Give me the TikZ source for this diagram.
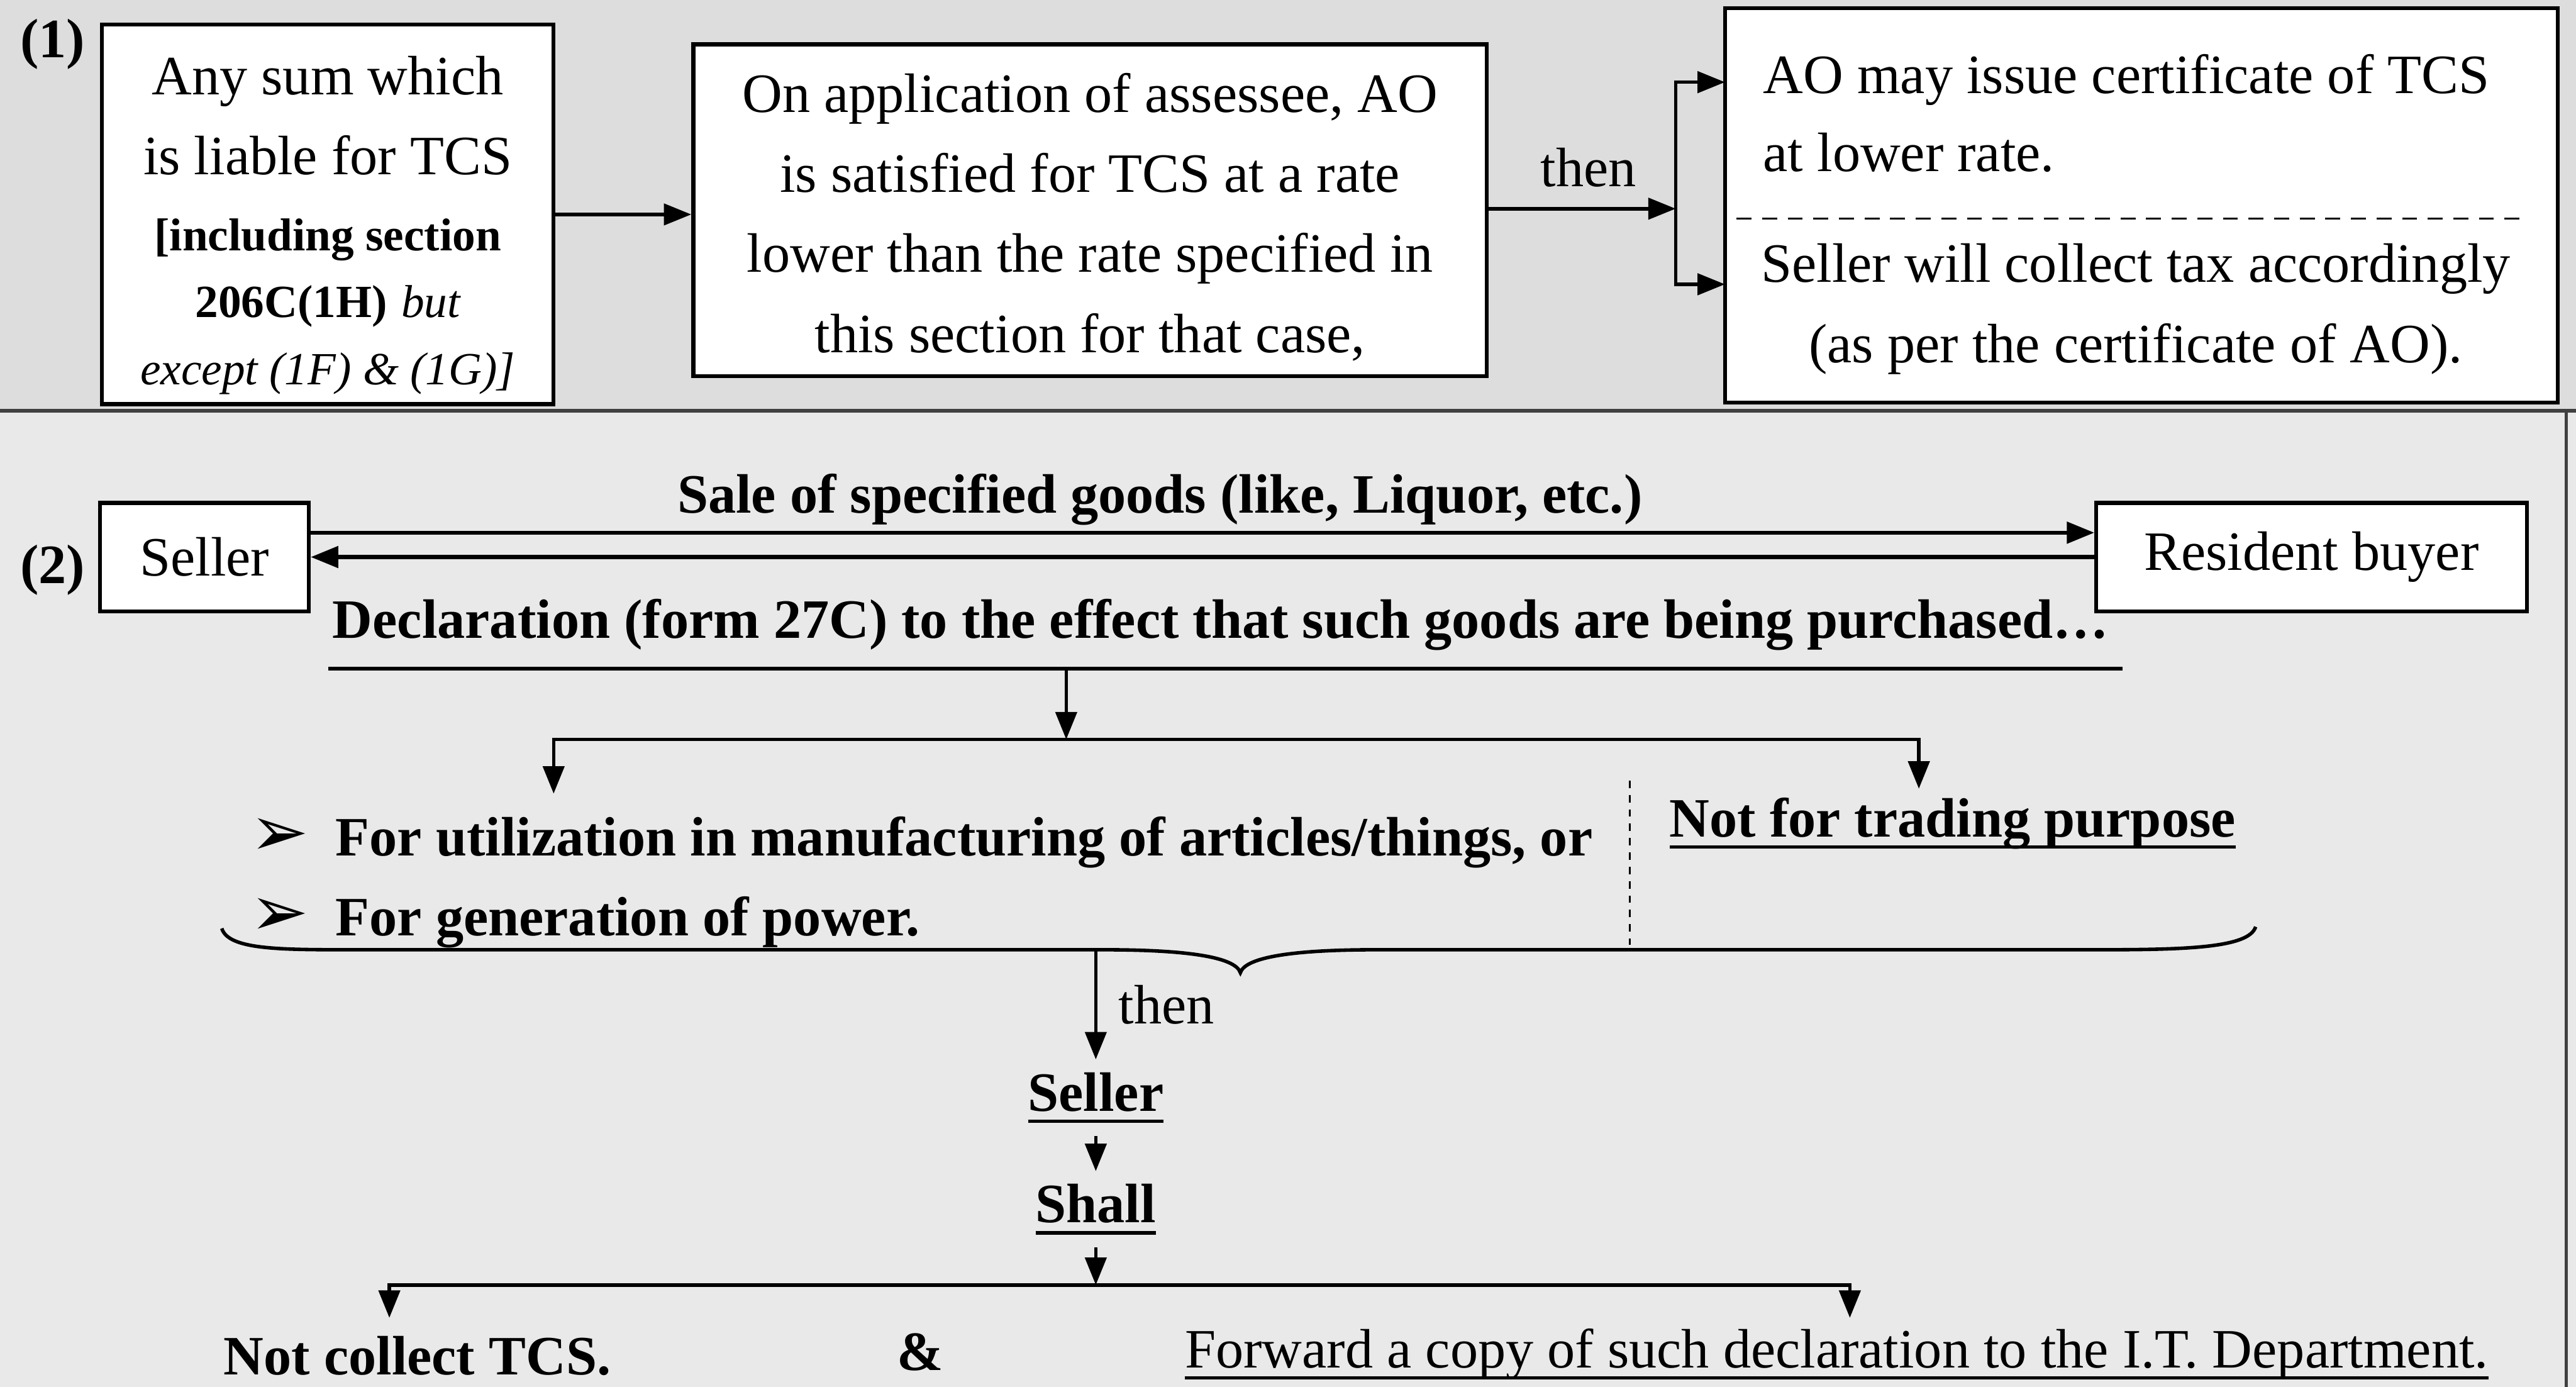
\documentclass[tikz,border=0pt]{standalone}
\usepackage{fontspec}
\setmainfont{Liberation Serif}
\newfontfamily\symfont{DejaVu Sans}
\usetikzlibrary{arrows.meta,positioning,calc}
\definecolor{panelA}{RGB}{221,221,221}
\definecolor{panelB}{RGB}{233,233,233}
\newcommand{\bigf}{\fontsize{25.3}{36.5}\selectfont}
\newcommand{\smf}{\fontsize{21}{30}\selectfont}
\newcommand{\bul}{\makebox[13.7mm][l]{\fontsize{32}{20}\selectfont\symfont\char"27A2}}
\newcommand{\ul}[1]{\setbox0\hbox{#1}\rlap{\rule[-5.5pt]{\wd0}{1.6pt}}\box0}

\begin{document}
\begin{tikzpicture}[x=0.2631mm,y=-0.2631mm,
  box/.style={draw,line width=1.8pt,fill=white,inner sep=0pt},
  arr/.style={line width=1.6pt,-{Triangle[length=4.4mm,width=3.4mm]}},
  ln/.style={line width=1.6pt},
  txt/.style={font=\bigf,inner sep=0pt},
  btxt/.style={font=\bigf\bfseries,inner sep=0pt}]
\useasboundingbox (0,0) rectangle (1568,844);
\fill[panelA] (0,0) rectangle (1568,250);
\fill[panelB] (0,250) rectangle (1568,844);
\draw[line width=1.6pt,black!75] (0,250) -- (1568,250);
\draw[line width=1.6pt,black!75] (1562,250) -- (1562,844);

% (1) lower rate certificate
\node[btxt] (n1) at (32,27) {(1)};
\node[box,minimum width=275*0.2631mm,minimum height=231*0.2631mm] (sum) at (199.5,130.5) {};
\node[txt,align=center] (sumtxt) at (199.5,137)
  {Any sum which\\ is liable for TCS\\[-2pt] {\smf\bfseries [including section}\\[-6pt] {\smf\bfseries 206C(1H)} {\smf\itshape but}\\[-6pt] {\smf\itshape except (1F) \& (1G)]}};
\node[box,minimum width=483*0.2631mm,minimum height=202*0.2631mm] (app) at (663.5,128) {};
\node[txt,align=center] (apptxt) at (663.5,132)
  {On application of assessee, AO\\ is satisfied for TCS at a rate\\ lower than the rate specified in\\ this section for that case,};
\node[box,minimum width=507*0.2631mm,minimum height=240*0.2631mm] (cert) at (1303.5,125) {};
\node[txt,align=left,anchor=west] (certa) at (1073,69) {AO may issue certificate of TCS\\[-1pt] at lower rate.};
\node[txt,align=center] (certb) at (1300,188) {Seller will collect tax accordingly\\ (as per the certificate of AO).};
\coordinate (dsh1) at (1057,133);
\coordinate (dsh2) at (1537,133);
\draw[line width=1pt,dash pattern=on 2.4mm off 1.7mm] (dsh1) -- (dsh2);
\coordinate (fork) at (1020,127);
\coordinate (in1) at (1050,50);
\coordinate (in2) at (1050,173);
\draw[arr] (sum.east) -- (sum.east -| app.west);
\draw[arr] (app.east |- fork) -- node[txt,above=3.2mm,xshift=1mm] (then1) {then} (fork);
\draw[arr] (fork) |- (in1);
\draw[arr] (fork) |- (in2);

% (2) declaration by buyer
\node[btxt] (n2) at (32,347) {(2)};
\node[box,font=\bigf,minimum width=127*0.2631mm,minimum height=66*0.2631mm] (seller) at (124.5,339) {Seller};
\node[box,font=\bigf,minimum width=262*0.2631mm,minimum height=66*0.2631mm] (buyer) at (1407,339) {Resident buyer};
\node[btxt] (sale) at (706,304) {Sale of specified goods (like, Liquor, etc.)};
\draw[arr,line width=1.8pt] ([yshift=3.9mm]seller.east) -- ([yshift=3.9mm]buyer.west);
\draw[arr,line width=1.8pt] (buyer.west) -- (seller.east);
\node[btxt] (decl) at (743,380) {Declaration (form 27C) to the effect that such goods are being purchased…};
\coordinate (dl) at (200,407);
\coordinate (dr) at (1292,407);
\coordinate (dm) at (649,407);
\coordinate (hub) at (649,450);
\coordinate (ua) at (337,483);
\coordinate (ub) at (1168,480);
\draw[ln] (dl) -- (dr);
\draw[arr] (dm) -- (hub);
\draw[arr] (hub) -| (ua);
\draw[arr] (hub) -| (ub);
\node[btxt,align=left,anchor=west] (uses) at (152,537)
  {\bul For utilization in manufacturing of articles/things, or\\ \bul For generation of power.};
\node[btxt,anchor=west] (ntp) at (1016,501) {\ul{Not for trading purpose}};
\coordinate (dv1) at (992,475);
\coordinate (dv2) at (992,575);
\draw[line width=1pt,dash pattern=on 1.2mm off 1.1mm] (dv1) -- (dv2);
\draw[ln] (135,565) .. controls (139,578) and (170,578) .. (215,578) -- (672,578)
  .. controls (720,578) and (752,582) .. (755,592) .. controls (758,582) and (790,578) .. (837,578)
  -- (1276,578) .. controls (1330,578) and (1369,577) .. (1373,564);
\coordinate (bt) at (667,578);
\node[btxt,inner sep=2mm] (seller2) at (667,668) {\ul{Seller}};
\node[btxt,inner sep=2mm] (shall) at (667,736) {\ul{Shall}};
\draw[arr] (bt) -- node[txt,right=3.4mm] (then2) {then} (seller2.north);
\draw[arr] (seller2.south) -- (shall.north);
\coordinate (hub2) at (667,782);
\coordinate (na) at (237,802);
\coordinate (fw) at (1126,802);
\draw[arr] (shall.south) -- (hub2);
\draw[arr] (hub2) -| (na);
\draw[arr] (hub2) -| (fw);
\node[btxt] (notc) at (254,825) {Not collect TCS.};
\node[btxt] (amp) at (560,823) {\&};
\node[txt] (fwd) at (1118,824) {\ul{Forward a copy of such declaration to the I.T. Department.}};
\end{tikzpicture}
\end{document}
